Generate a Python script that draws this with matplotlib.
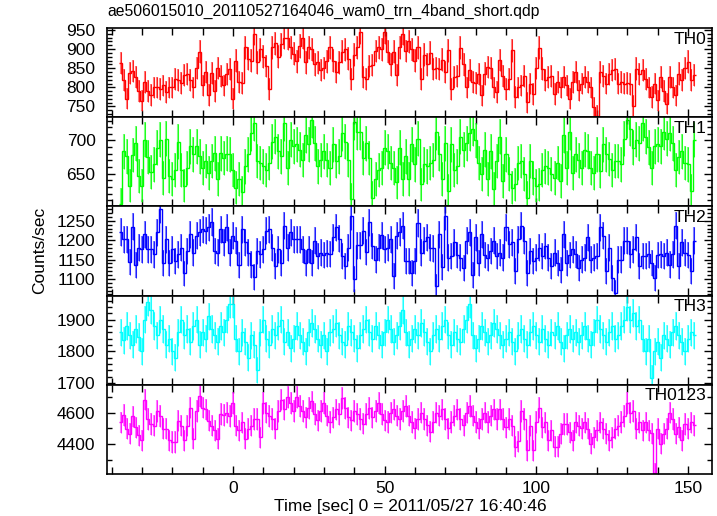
import numpy as np
import matplotlib
matplotlib.use('Agg')
import matplotlib.pyplot as plt
from matplotlib.ticker import MultipleLocator, FixedLocator

plt.rcParams['font.family'] = ['Liberation Sans', 'DejaVu Sans']

title = "ae506015010_20110527164046_wam0_trn_4band_short.qdp"
xlabel = "Time [sec] 0 = 2011/05/27 16:40:46"
ylabel = "Counts/sec"
bands = ["TH0", "TH1", "TH2", "TH3", "TH0123"]
colors = ["#ff0000", "#00ff00", "#0000ff", "#00ffff", "#ff00ff"]

t_first = -37.0   # centre of first 1-s bin
bin_size = 1.0

th0 = [863,820,770,838,842,828,790,765,815,790,
       780,800,800,795,805,788,800,800,822,820,
       812,832,835,818,800,850,893,805,840,780,
       838,790,850,830,805,835,848,770,870,815,
       812,905,875,870,940,865,900,880,855,795,
       905,915,880,912,930,928,905,888,868,908,
       930,865,905,900,860,865,845,850,868,905,
       870,840,865,893,900,875,822,885,905,945,
       828,822,855,858,895,905,900,945,893,860,
       893,833,
       905,940,895,920,900,870,905,823,885,860,
       890,848,850,848,872,840,897,796,827,830,
       904,860,800,846,814,812,835,779,836,853,
       850,800,788,871,830,796,823,897,775,800,
       805,830,761,810,783,850,904,849,820,827,
       830,783,815,800,827,805,770,815,840,792,
       810,827,815,800,748,726,840,830,810,835,
       845,848,810,815,810,812,808,752,849,835,
       845,823,800,775,810,766,827,790,757,827,
       800,779,836,820,850,867,818,832]

th1 = [604,684,676,632,678,696,647,632,701,675,
       653,664,689,701,644,703,647,642,656,698,
       656,632,659,691,679,691,676,659,669,651,
       669,681,642,681,674,680,679,656,629,642,
       622,661,679,711,726,669,666,661,656,666,
       698,706,684,676,726,659,701,691,694,686,
       671,708,694,731,696,661,671,684,671,659,
       694,669,676,711,698,671,612,728,713,713,
       674,696,674,614,642,656,659,689,684,666,
       659,637,
       689,642,676,642,694,664,703,634,664,661,666,671,713,680,
       642,696,624,694,656,661,706,686,696,711,718,700,
       666,649,686,642,684,627,669,706,639,679,650,
       629,634,666,669,649,614,669,644,632,634,655,
       661,659,649,644,666,639,708,659,713,651,679,670,
       659,686,684,659,651,679,654,694,679,672,
       656,669,669,664,703,731,718,689,701,696,726,706,690,
       659,691,694,691,713,703,711,696,656,675,
       684,666,664,624,701]

th2 = [1221,1202,1202,1143,1235,1135,1181,1176,1215,1176,
       1176,1163,1220,1280,1142,1202,1142,1176,1146,1163,
       1181,1114,1172,1215,1168,1211,1220,1228,1224,1233,
       1247,1172,1168,1228,1194,1233,1168,1211,1198,1135,
       1228,1194,1168,1137,1105,1172,1163,1176,1224,1228,
       1181,1133,1176,1142,1237,1181,1220,1202,1202,1202,
       1176,1142,1176,1142,1198,1159,1168,1161,1166,1164,
       1207,1233,1204,1159,1133,1181,1261,1100,1187,1187,
       1224,1169,1246,1185,1150,1181,1213,1176,1181,
       1202,1107,1211,1221,1237,1146,1146,1116,1146,1244,
       1168,1198,1207,1181,1179,1081,1215,1131,1261,1155,
       1159,1194,1161,1155,1129,1198,1220,1110,1207,
       1142,1215,1161,1155,1172,1198,1159,1168,1155,1233,
       1189,1194,1120,1202,1237,1198,1116,1172,1146,1155,
       1181,1159,1185,1155,1133,1168,1142,1124,1215,1142,
       1161,1176,1163,1129,1150,1155,1207,1150,1155,
       1159,1233,1211,1120,1181,1103,1064,1150,1150,1198,
       1198,1163,1176,1207,1133,1159,1159,1163,1142,1103,
       1161,1163,1159,1168,1137,1163,1237,1133,1194,1168,
       1161,1120,1198]

th3 = [1860,1835,1880,1850,1820,1870,1845,1800,1900,1955,
       1930,1880,1850,1900,1870,1820,1840,1800,1780,1860,
       1900,1850,1870,1830,1880,1900,1820,1860,1840,1910,
       1870,1850,1830,1880,1860,1900,1950,1950,1840,1800,
       1860,1830,1780,1850,1820,1740,1860,1900,1840,1820,
       1870,1850,1880,1900,1830,1860,1810,1840,1880,1850,
       1830,1800,1860,1890,1870,1840,1820,1850,1800,1860,
       1870,1890,1850,1830,1820,1880,1860,1840,1810,1850,
       1870,1900,1860,1840,1880,1850,1820,1860,1900,1870,
       1830,1850,1880,1930,1860,1820,1840,1870,1850,1890,
       1860,1830,1800,1850,1870,1840,1880,1900,1850,1820,
       1860,1840,1830,1870,1900,1950,1850,1810,1840,1880,
       1860,1830,1850,1890,1870,1850,1820,1840,1860,1830,
       1800,1850,1870,1840,1820,1860,1880,1850,1830,1870,
       1840,1820,1860,1850,1880,1830,1810,1850,1870,1840,
       1860,1830,1850,1880,1840,1820,1860,1900,1870,1850,
       1830,1860,1880,1840,1850,1880,1900,1940,1900,1920,
       1880,1900,1840,1800,1840,1715,1800,1830,1780,1850,
       1840,1820,1860,1880,1850,1830,1800,1840,1860,1850]

th0123 = [4538,4584,4497,4466,4575,4507,4456,4425,4682,4559,
          4528,4518,4610,4579,4497,4497,4425,4414,4414,4548,
          4518,4425,4518,4631,4435,4610,4703,4631,4620,4548,
          4518,4487,4435,4590,4584,4600,4579,4662,4518,4487,
          4538,4435,4497,4518,4559,4559,4445,4662,4600,4579,
          4559,4497,4610,4682,4620,4700,4660,4610,4700,4640,
          4610,4570,4630,4670,4590,4550,4610,4660,4580,4540,
          4570,4620,4590,4690,4630,4570,4550,4610,4590,4560,
          4530,4590,4630,4570,4610,4660,4590,4550,4540,4600,
          4620,4580,4560,4610,4640,4580,4540,4500,4560,4600,
          4560,4520,4480,4540,4600,4580,4620,4560,4500,4540,
          4580,4620,4560,4520,4600,4640,4580,4540,4500,4560,
          4600,4540,4580,4620,4560,
          4620,4560,4507,4560,4518,4383,4420,4610,4560,4363,
          4518,4363,4540,4631,4507,4538,4425,4487,4383,4383,
          4466,4528,4528,4476,4425,4538,4518,4500,4538,4497,
          4404,4445,4487,4538,4497,4466,4425,4445,4497,4518,
          4540,4579,4662,4600,4610,4497,4538,4487,4538,4487,
          4470,4219,4497,4404,4466,4497,4600,4560,4466,4507,
          4425,4528,4497,4538,4520]

series = [th0, th1, th2, th3, th0123]
ylims = [(722, 955), (601, 735), (1057, 1287), (1694, 1976), (4212, 4775)]
ylabels_at = [[750, 800, 850, 900, 950], [650, 700], [1100, 1150, 1200, 1250],
              [1700, 1800, 1900], [4400, 4600]]
yminor = [10, 10, 10, 20, 100]
xlim = (-41.6, 157.8)

W, H = 717, 516
fig = plt.figure(figsize=(W / 100, H / 100), dpi=100)
ax_left, ax_right = 106.7 / W, 711.7 / W
top_px, bot_px = 28.0, 474.0
ph = (bot_px - top_px) / 5

for i, (vals, name, col) in enumerate(zip(series, bands, colors)):
    vals = np.asarray(vals, dtype=float)
    n = len(vals)
    centres = t_first + bin_size * np.arange(n)
    edges = np.concatenate([centres - bin_size / 2, [centres[-1] + bin_size / 2]])
    err = np.sqrt(vals / bin_size)
    y0 = 1 - (top_px + (i + 1) * ph) / H
    ax = fig.add_axes([ax_left, y0, ax_right - ax_left, ph / H])
    ax.vlines(centres, vals - err, vals + err, color=col, lw=1.5, alpha=0.5)
    ax.vlines(centres, vals - err, vals + err, color=col, lw=0.6, alpha=0.9)
    ax.stairs(vals, edges, baseline=None, color=col, lw=1.0)
    ax.set_xlim(*xlim)
    ax.set_ylim(*ylims[i])
    ax.xaxis.set_major_locator(MultipleLocator(50))
    ax.xaxis.set_minor_locator(MultipleLocator(10))
    ax.yaxis.set_major_locator(FixedLocator(ylabels_at[i]))
    ax.yaxis.set_minor_locator(MultipleLocator(yminor[i]))
    ax.tick_params(which='both', direction='in', top=True, right=True,
                   labelsize=12.5, width=1.0, colors='black', pad=8)
    ax.tick_params(which='major', length=6)
    ax.tick_params(which='minor', length=3.5)
    ax.tick_params(axis='x', which='minor', length=5)
    ax.tick_params(axis='x', which='major', pad=5)
    if i < 4:
        ax.tick_params(axis='x', labelbottom=False)
    for s in ax.spines.values():
        s.set_linewidth(1.2)
    ax.text(0.992, 0.96, name, transform=ax.transAxes, ha='right', va='top',
            fontsize=12.5)

fig.text(107 / W, 1 - 11 / H, title, ha='left', va='center', fontsize=11.3)
fig.text(410 / W, 1 - 506 / H, xlabel, ha='center', va='center', fontsize=12.5)
fig.text(40 / W, 1 - 250 / H, ylabel, ha='center', va='center', rotation=90,
         fontsize=12.5)

fig.savefig('out.png', dpi=100)
